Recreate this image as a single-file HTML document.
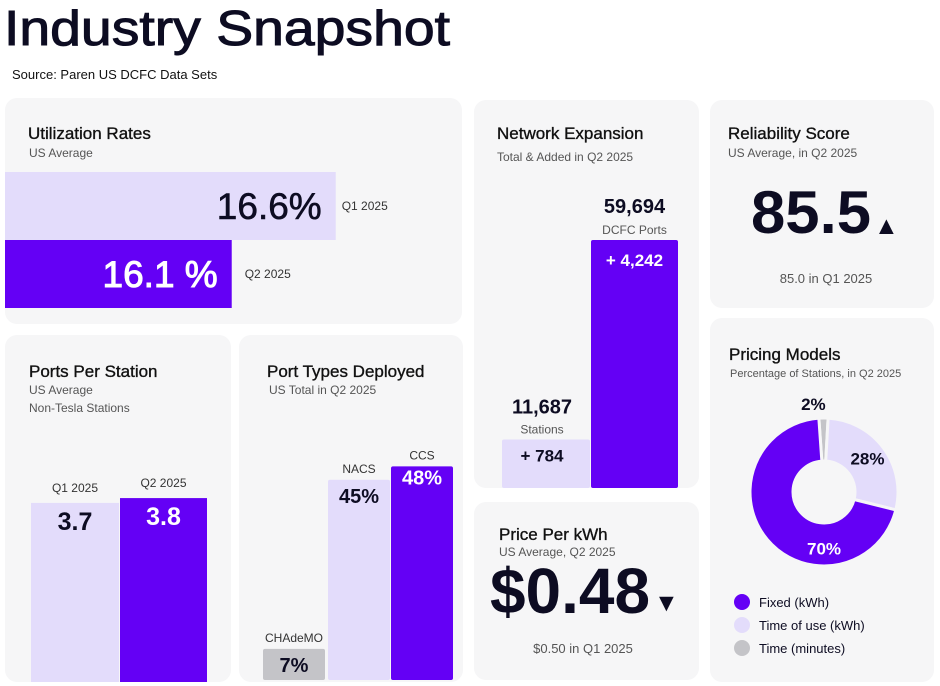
<!DOCTYPE html>
<html><head><meta charset="utf-8">
<style>
html,body{margin:0;padding:0;background:#fff;}
svg{display:block;font-family:"Liberation Sans",sans-serif;}
</style></head>
<body>
<svg id="c" width="940" height="686" viewBox="0 0 940 686">
<text x="4" y="45" font-size="49" fill="#0d0c22" stroke="#0d0c22" stroke-width="1" textLength="446" lengthAdjust="spacingAndGlyphs">Industry Snapshot</text>
<text x="12" y="79" font-size="13" fill="#111">Source: Paren US DCFC Data Sets</text>

<rect x="5" y="98" width="457" height="226" rx="12" fill="#f6f6f7"/>
<rect x="5" y="335" width="226" height="347" rx="12" fill="#f6f6f7"/>
<rect x="239" y="335" width="224" height="347" rx="12" fill="#f6f6f7"/>
<rect x="474" y="100" width="225" height="388" rx="12" fill="#f6f6f7"/>
<rect x="474" y="502" width="225" height="178" rx="12" fill="#f6f6f7"/>
<rect x="710" y="100" width="224" height="208" rx="12" fill="#f6f6f7"/>
<rect x="710" y="318" width="224" height="364" rx="12" fill="#f6f6f7"/>

<g fill="#111" stroke="#111" stroke-width="0.35" font-size="17">
<text x="28" y="139">Utilization Rates</text>
<text x="29" y="377">Ports Per Station</text>
<text x="267" y="377">Port Types Deployed</text>
<text x="497" y="139">Network Expansion</text>
<text x="499" y="540">Price Per kWh</text>
<text x="728" y="139">Reliability Score</text>
<text x="729" y="360">Pricing Models</text>
</g>
<g fill="#555" font-size="12">
<text x="29" y="157">US Average</text>
<text x="29" y="394">US Average</text>
<text x="29" y="412">Non-Tesla Stations</text>
<text x="269" y="394">US Total in Q2 2025</text>
<text x="497" y="161">Total &amp; Added in Q2 2025</text>
<text x="499" y="556">US Average, Q2 2025</text>
<text x="728" y="157">US Average, in Q2 2025</text>
<text x="730" y="377" font-size="11">Percentage of Stations, in Q2 2025</text>
</g>

<text x="490" y="613" font-size="64" font-weight="bold" fill="#0d0c22" textLength="160" lengthAdjust="spacingAndGlyphs">$0.48</text>
<text x="654" y="611" font-size="25" fill="#0d0c22">▼</text>
<text x="583" y="653" font-size="13" fill="#555" text-anchor="middle">$0.50 in Q1 2025</text>

<text x="751" y="233" font-size="60" font-weight="bold" fill="#0d0c22" textLength="120" lengthAdjust="spacingAndGlyphs">85.5</text>
<text x="874" y="234" font-size="25" fill="#0d0c22">▲</text>
<text x="826" y="283" font-size="13" fill="#555" text-anchor="middle">85.0 in Q1 2025</text>

<g id="marks"></g>
</svg>
<script>
const NS="http://www.w3.org/2000/svg";
const PURPLE="#6400f5",LIGHT="#e3dcfb",GREY="#c4c4c8",DARK="#0d0c22";
// Utilization
const utilLabels=["Q1 2025","Q2 2025"];
const utilValues=[16.6,16.1];
const utilText=["16.6%","16.1 %"];
// Ports per station
const ppsLabels=["Q1 2025","Q2 2025"];
const ppsValues=[3.7,3.8];
// Port types
const ptLabels=["CHAdeMO","NACS","CCS"];
const ptValues=[7,45,48];
// Network expansion
const netLabels=["Stations","DCFC Ports"];
const netTotals=[11687,59694];
const netAdded=[784,4242];
// Pricing models
const pmLabels=["Fixed (kWh)","Time of use (kWh)","Time (minutes)"];
const pmValues=[70,28,2];

const g=document.getElementById('marks');
function el(tag,attrs,txt){const e=document.createElementNS(NS,tag);for(const k in attrs)e.setAttribute(k,attrs[k]);if(txt!==undefined)e.textContent=txt;g.appendChild(e);return e;}
const fmt=n=>n.toLocaleString('en-US');

// Utilization: horizontal bars
const uX=v=>(v-15.01)*208; // width
const uCol=[LIGHT,PURPLE],uTxt=[DARK,"#fff"];
utilValues.forEach((v,i)=>{
  const y=172+i*68,w=uX(v);
  const r=el('rect',{x:5,y:y,width:w,height:68,fill:uCol[i]});
  
  
  const t=el('text',{x:5+w-14,y:y+47,'font-size':37,'text-anchor':'end',fill:uTxt[i],stroke:uTxt[i],'stroke-width':i?1:0.6},utilText[i]);
  
  
  const l=el('text',{x:5+w+(i?13:6),y:y+38,'font-size':12,fill:'#333'},utilLabels[i]);
  
  
});

// Ports per station
const ppsH=v=>v*48.4, ppsBase=682;
const ppsX=[31,120],ppsW=[88,87];
ppsValues.forEach((v,i)=>{
  const top=ppsBase-ppsH(v);
  const r=el('rect',{x:ppsX[i],y:top,width:ppsW[i],height:ppsH(v),fill:i?PURPLE:LIGHT});
  
  
  const cx=ppsX[i]+ppsW[i]/2;
  const l=el('text',{x:cx,y:top-11,'font-size':12,'text-anchor':'middle',fill:'#333'},ppsLabels[i]);
  
  
  const t=el('text',{x:cx,y:top+27,'font-size':25,'font-weight':'bold','text-anchor':'middle',fill:i?'#fff':DARK},v.toFixed(1));
  
  
});

// Port types
const ptH=v=>v*4.45, ptBase=680;
const ptX=[263,328,391],ptCol=[GREY,LIGHT,PURPLE],ptTC=[DARK,DARK,'#fff'];
ptValues.forEach((v,i)=>{
  const top=ptBase-ptH(v),cx=ptX[i]+31;
  const r=el('rect',{x:ptX[i],y:top,width:62,height:ptH(v),fill:ptCol[i],rx:2});
  
  
  const l=el('text',{x:cx,y:top-7,'font-size':12,'text-anchor':'middle',fill:'#333'},ptLabels[i]);
  
  
  const t=el('text',{x:cx,y:top+(i==2?18:23),'font-size':20,'font-weight':'bold','text-anchor':'middle',fill:ptTC[i]},v+'%');
  
  
});

// Network expansion
const nH=v=>v*248/59694, nBase=488;
const nX=[502,591],nW=[88,87];
netTotals.forEach((v,i)=>{
  const top=nBase-nH(v),cx=nX[i]+nW[i]/2-(i?0:4);
  const r=el('rect',{x:nX[i],y:top,width:nW[i],height:nH(v),fill:i?PURPLE:LIGHT,rx:2});
  
  
  const t=el('text',{x:cx,y:top-(i?27:26),'font-size':20,'font-weight':'bold','text-anchor':'middle',fill:DARK},fmt(v));
  
  
  const l=el('text',{x:cx,y:top-6,'font-size':12,'text-anchor':'middle',fill:'#555'},netLabels[i]);
  
  
  const a=el('text',{x:cx,y:top+(i?26:22),'font-size':17,'font-weight':'bold','text-anchor':'middle',fill:i?'#fff':DARK},'+ '+fmt(netAdded[i]));
  
  
});

// Donut
const cx=824,cy=492,R=74,r0=31;
const drawOrder=[2,1,0],pmCol=[PURPLE,LIGHT,GREY];
const total=pmValues.reduce((a,b)=>a+b,0);
let ang=-4;
const pt=(a,rad)=>[cx+rad*Math.sin(a*Math.PI/180),cy-rad*Math.cos(a*Math.PI/180)];
drawOrder.forEach(i=>{
  const sweep=pmValues[i]/total*360,a0=ang,a1=ang+sweep,large=sweep>180?1:0;
  const p1=pt(a0,R),p2=pt(a1,R),p3=pt(a1,r0),p4=pt(a0,r0);
  const p=el('path',{d:`M${p1}L${p1}A${R},${R} 0 ${large} 1 ${p2}L${p3}A${r0},${r0} 0 ${large} 0 ${p4}Z`,fill:pmCol[i],stroke:'#f6f6f7','stroke-width':3,'stroke-linejoin':'round'});
  
  
  let mid=(a0+a1)/2;
  if(i==0) mid=a0+Math.min(sweep,76); // label near bottom of slice
  const lr=i==2?R+14:(R+r0)/2+4;
  const lp=pt(mid,lr);
  const t=el('text',{x:lp[0]+(i==2?-10:i==1?-2:0),y:lp[1]+6,'font-size':17,'font-weight':'bold','text-anchor':'middle',fill:i==0?'#fff':DARK},pmValues[i]+'%');
  
  
  ang=a1;
});
pmLabels.forEach((lab,i)=>{
  const y=602+i*23;
  const c=el('circle',{cx:742,cy:y,r:8,fill:pmCol[i]});
  
  
  const t=el('text',{x:759,y:y+5,'font-size':13,fill:DARK},lab);
  
  
});
</script>
</body></html>
